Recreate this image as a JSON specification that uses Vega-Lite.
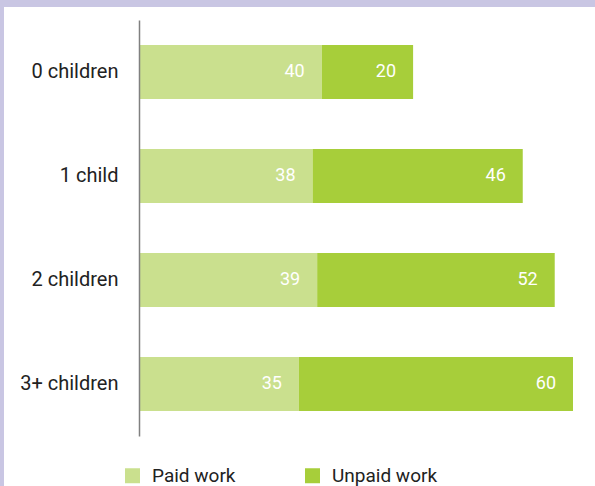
{
  "$schema": "https://vega.github.io/schema/vega-lite/v6.json",
  "width": 434,
  "height": 416,
  "autosize": {"type": "none"},
  "padding": {"left": 139, "top": 20, "right": 22, "bottom": 50},
  "background": "#c9c6e3",
  "config": {
    "view": {"stroke": null},
    "font": "Roboto",
    "axis": {"labelFont": "Roboto", "labelColor": "#222222"},
    "legend": {"labelFont": "Roboto", "labelColor": "#222222"}
  },
  "layer": [
    {
      "data": {"values": [{"frame": "background"}]},
      "mark": {"type": "rect", "fill": "#ffffff"},
      "encoding": {
        "x": {"value": -135},
        "x2": {"value": 456},
        "y": {"value": -13},
        "y2": {"value": 466}
      }
    },
    {
      "data": {
        "values": [
          {"group": "0 children", "series": "Paid work", "value": 40},
          {"group": "0 children", "series": "Unpaid work", "value": 20},
          {"group": "1 child", "series": "Paid work", "value": 38},
          {"group": "1 child", "series": "Unpaid work", "value": 46},
          {"group": "2 children", "series": "Paid work", "value": 39},
          {"group": "2 children", "series": "Unpaid work", "value": 52},
          {"group": "3+ children", "series": "Paid work", "value": 35},
          {"group": "3+ children", "series": "Unpaid work", "value": 60}
        ]
      },
      "transform": [
        {"stack": "value", "groupby": ["group"], "sort": [{"field": "series", "order": "ascending"}], "as": ["v0", "v1"]}
      ],
      "encoding": {
        "y": {
          "field": "group",
          "type": "nominal",
          "sort": ["0 children", "1 child", "2 children", "3+ children"],
          "scale": {"paddingInner": 0.48, "paddingOuter": 0.24},
          "axis": {
            "title": null,
            "ticks": false,
            "labelPadding": 21,
            "labelFontSize": 20,
            "domainColor": "#808080",
            "domainWidth": 1.5,
            "zindex": 1
          }
        }
      },
      "layer": [
        {
          "mark": {"type": "bar"},
          "encoding": {
            "x": {"field": "v0", "type": "quantitative", "scale": {"domain": [0, 95], "nice": false}, "axis": null},
            "x2": {"field": "v1"},
            "color": {
              "field": "series",
              "type": "nominal",
              "scale": {"domain": ["Paid work", "Unpaid work"], "range": ["#cae08e", "#a7ce3a"]},
              "legend": {
                "title": null,
                "orient": "none",
                "direction": "horizontal",
                "legendX": -16,
                "legendY": 446,
                "symbolType": "square",
                "symbolSize": 225,
                "symbolStrokeWidth": 0,
                "symbolOpacity": 1,
                "labelFontSize": 19,
                "labelOffset": 10,
                "columnPadding": 67,
                "zindex": 1
              }
            }
          }
        },
        {
          "mark": {"type": "text", "align": "right", "baseline": "middle", "dx": -17, "fontSize": 18, "color": "#ffffff"},
          "encoding": {
            "x": {"field": "v1", "type": "quantitative"},
            "text": {"field": "value", "type": "quantitative"}
          }
        }
      ]
    }
  ]
}
